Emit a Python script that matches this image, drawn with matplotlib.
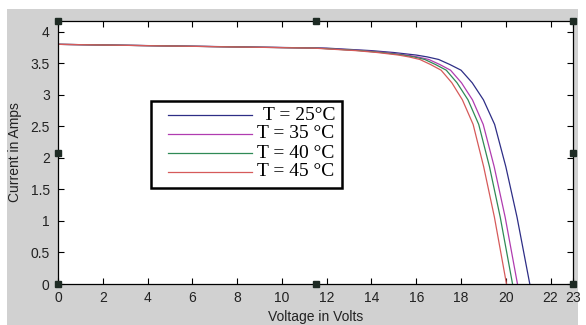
import matplotlib
matplotlib.use('Agg')
import matplotlib.pyplot as plt
from matplotlib.patches import Rectangle

# I-V curves (V in volts, I in amps)
v_25 = [0, 0, 2, 4, 6, 8, 10, 12, 13, 14, 15, 16, 16.5, 17, 17.5, 18, 18.5, 19, 19.5, 20, 20.5, 21.07]
v_35 = [0, 0, 1.95, 3.90, 5.84, 7.79, 9.74, 11.69, 12.66, 13.64, 14.61, 15.58, 16.07, 16.56, 17.05, 17.53, 18.02, 18.51, 18.99, 19.48, 19.97, 20.52]
v_40 = [0, 0, 1.93, 3.85, 5.78, 7.71, 9.64, 11.56, 12.53, 13.49, 14.45, 15.42, 15.90, 16.38, 16.86, 17.34, 17.82, 18.31, 18.79, 19.27, 19.75, 20.30]
v_45 = [0, 0, 1.90, 3.80, 5.70, 7.60, 9.51, 11.41, 12.36, 13.31, 14.26, 15.21, 15.68, 16.16, 16.64, 17.11, 17.59, 18.06, 18.54, 19.01, 19.49, 20.03]
current = [0, 3.80, 3.79, 3.78, 3.77, 3.76, 3.75, 3.74, 3.72, 3.70, 3.67, 3.63, 3.60, 3.56, 3.48, 3.39, 3.19, 2.92, 2.53, 1.86, 1.06, 0]

labels = ['T = 25°C', 'T = 35 °C', 'T = 40 °C', 'T = 45 °C']
colors = ['#2e2e86', '#b03cb0', '#2f8a56', '#d65a5a']
x_ticks = [0, 2, 4, 6, 8, 10, 12, 14, 16, 18, 20, 22, 23]
y_ticks = [0, 0.5, 1, 1.5, 2, 2.5, 3, 3.5, 4]
y_ticklabels = ['0', '0.5', '1', '1.5', '2', '2.5', '3', '3.5', '4']

W, H = 586, 325
AX_L, AX_R, AX_T, AX_B = 58, 573, 21, 284  # axes box in pixels


def ax_frac(px, py):
    return (px - AX_L) / (AX_R - AX_L), (AX_B - py) / (AX_B - AX_T)


fig = plt.figure(figsize=(W / 100, H / 100), dpi=100, facecolor='white')
fig.patches.append(Rectangle((7 / W, 0), 571 / W, 316 / H, transform=fig.transFigure,
                             facecolor='#d1d1d1', edgecolor='none', zorder=-10))
ax = fig.add_axes([AX_L / W, (H - AX_B) / H, (AX_R - AX_L) / W, (AX_B - AX_T) / H])
ax.set_facecolor('white')

for v, c in zip([v_25, v_35, v_40, v_45], colors):
    ax.plot(v, current, color=c, lw=0.9)

ax.set_xlim(0, 23)
ax.set_ylim(0, 4.17)
ax.set_xticks(x_ticks)
ax.set_yticks(y_ticks)
ax.set_yticklabels(y_ticklabels)
ax.tick_params(direction='in', length=4, width=0.8, top=True, right=True, labelsize=10)
ax.tick_params(axis='x', pad=5)
ax.tick_params(axis='y', pad=6)
for lbl in ax.get_xticklabels() + ax.get_yticklabels():
    lbl.set_family('Liberation Sans')
    lbl.set_color('#222222')
for s in ax.spines.values():
    s.set_linewidth(0.9)

ax.set_xlabel('Voltage in Volts', family='Liberation Sans', fontsize=10, labelpad=4, color='#222222')
ax.set_ylabel('Current in Amps', family='Liberation Sans', fontsize=10, labelpad=6, color='#222222')

# legend box drawn by hand (MATLAB style)
x0, y0 = ax_frac(151, 188)
x1, y1 = ax_frac(342, 101)
ax.add_patch(Rectangle((x0, y0), x1 - x0, y1 - y0, transform=ax.transAxes,
                       facecolor='white', edgecolor='black', lw=1.8, zorder=5))
for i, (lab, c) in enumerate(zip(labels, colors)):
    row_y = 115 + 19 * i
    lx0, ly = ax_frac(168, row_y)
    lx1, _ = ax_frac(252, row_y)
    ax.plot([lx0, lx1], [ly, ly], color=c, lw=0.9, transform=ax.transAxes, zorder=6)
    tx, _ = ax_frac(263 if i == 0 else 257, row_y)
    ax.text(tx, ly, lab, transform=ax.transAxes, family='Liberation Serif', fontsize=14,
            ha='left', va='center', zorder=6)

# figure edit handles
for hx, hy in [(0, 0), (0.5, 0), (1, 0), (0, 0.5), (1, 0.5), (0, 1), (0.5, 1), (1, 1)]:
    ax.plot(hx, hy, marker='s', ms=5, color='#1e2b24', transform=ax.transAxes,
            clip_on=False, zorder=10)

fig.savefig('out.png', dpi=100)
